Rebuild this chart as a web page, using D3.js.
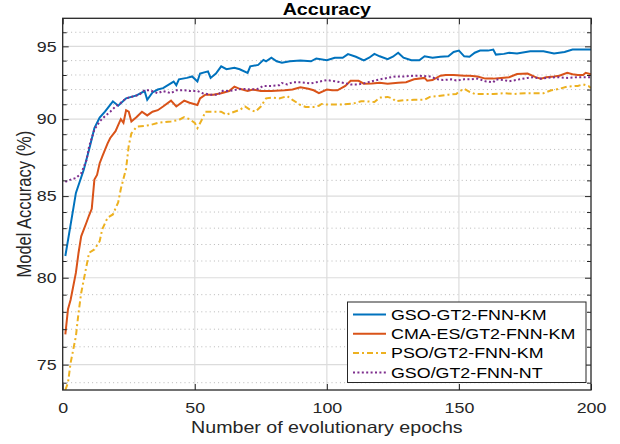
<!DOCTYPE html>
<html>
<head>
<meta charset="utf-8">
<script src="https://cdn.jsdelivr.net/npm/d3@7"></script>
<style>
  html, body { margin: 0; padding: 0; background: #fff; }
  svg { display: block; font-family: "Liberation Sans", Arial, sans-serif; }
</style>
</head>
<body>
<div id="chart"></div>
<script>
//================================
// Data
var seriesNames = ["GSO-GT2-FNN-KM", "CMA-ES/GT2-FNN-KM", "PSO/GT2-FNN-KM", "GSO/GT2-FNN-NT"];

var gsoKmEpochs = [1,4,5,8,10,12,14,16,19,21,24,28,31,32,34,36,38,42,43,44,47,49,51,52,55,56,58,60,62,65,67,70,71,74,76,77,79,81,83,86,90,94,96,100,103,106,108,111,114,116,118,120,123,125,127,129,132,135,137,140,143,146,148,150,152,154,156,158,161,163,164,167,169,172,177,182,186,190,193,197,200];
var gsoKmAcc = [81.3,84.2,85.2,86.7,88.0,89.4,90.1,90.5,91.2,90.9,91.4,91.6,91.9,91.3,91.8,92.0,92.1,92.55,92.3,92.7,92.8,92.9,92.55,93.1,93.25,92.8,93.1,93.6,93.4,93.5,93.4,93.15,93.6,93.7,94.05,93.95,94.2,93.95,93.85,93.95,94.0,93.95,94.15,94.02,94.2,94.2,94.45,94.27,94.02,94.2,94.47,94.3,94.1,94.27,94.55,94.2,94.02,94.02,94.3,94.2,94.27,94.3,94.6,94.7,94.3,94.27,94.55,94.7,94.7,94.77,94.42,94.47,94.55,94.5,94.65,94.65,94.5,94.6,94.77,94.77,94.77];

var cmaEpochs = [1,2,3,5,6,7,9,10,11,12,13,14,15,17,18,20,21,22,23,24,25,26,28,30,32,34,36,38,41,43,46,48,51,52,54,57,60,63,65,67,70,72,75,79,84,87,90,93,95,97,100,102,104,107,109,112,114,117,120,123,127,130,133,137,138,140,143,145,148,152,154,157,160,163,166,169,172,176,179,181,183,186,188,191,193,195,197,198,200];
var cmaAcc = [76.7,78.15,78.7,80.3,81.5,82.5,83.35,83.8,84.2,86.05,86.35,87.1,87.55,88.4,88.75,89.2,89.6,90.0,89.75,90.6,90.5,89.85,90.15,90.5,90.25,90.5,90.6,90.85,91.25,90.85,91.25,91.1,90.95,91.4,91.65,91.65,91.75,91.9,92.2,92.05,91.9,92.0,91.9,91.9,91.95,92.0,92.15,92.05,91.95,91.75,92.0,91.95,91.95,92.25,92.6,92.6,92.4,92.42,92.47,92.4,92.47,92.5,92.7,92.8,92.6,92.65,92.95,93.0,93.0,92.95,92.95,92.9,92.75,92.75,92.8,92.85,93.07,93.1,92.85,92.75,92.85,92.9,92.95,93.15,93.05,93.0,93.0,93.15,93.05];

var psoEpochs = [1,2,3,5,6,7,8,10,12,14,15,17,19,21,22,24,25,26,28,31,33,36,41,44,46,48,50,51,53,54,56,60,62,65,67,69,71,73,75,77,79,82,85,87,90,92,95,97,98,100,103,106,110,113,115,118,120,123,125,126,129,133,137,139,142,146,149,150,152,154,156,159,163,167,171,175,178,182,185,188,191,195,197,199,200];
var psoAcc = [73.6,74.0,75.1,76.6,77.95,79.1,79.9,81.5,81.7,82.2,82.95,83.65,83.85,84.6,85.45,86.75,88.25,89.05,89.5,89.55,89.6,89.75,89.85,89.95,90.13,90.0,89.75,89.4,90.07,90.5,90.5,90.5,90.3,90.5,90.62,90.85,90.62,90.5,90.85,91.4,91.45,91.4,91.55,91.3,90.95,90.82,90.82,90.9,91.02,90.98,90.98,90.98,91.05,91.2,91.2,91.15,91.45,91.5,91.38,91.2,91.27,91.3,91.3,91.5,91.55,91.65,91.7,91.85,92.05,91.85,91.7,91.7,91.7,91.75,91.7,91.75,91.75,91.75,91.95,92.05,92.2,92.25,92.35,92.25,92.1];

var gsoNtEpochs = [1,3,5,7,9,10,12,14,16,18,20,22,24,27,29,31,33,36,38,41,43,46,48,51,53,56,59,60,63,66,68,71,74,76,79,82,83,85,87,90,94,96,99,100,103,106,109,112,115,117,120,123,126,129,133,135,139,142,144,147,149,152,154,157,160,163,164,167,169,173,176,178,181,183,187,191,195,200];
var gsoNtAcc = [85.9,86.05,86.15,86.45,87.3,88.2,89.3,89.85,90.2,90.5,90.85,91.1,91.4,91.55,91.65,91.95,91.95,91.75,91.9,91.75,91.95,91.95,91.9,91.9,91.75,91.65,91.65,91.9,91.9,92.0,92.05,92.0,92.05,92.25,92.25,92.3,92.45,92.35,92.5,92.5,92.42,92.5,92.62,92.65,92.57,92.47,92.35,92.35,92.47,92.57,92.7,92.8,92.9,92.9,92.95,92.95,92.9,92.7,92.65,92.7,92.62,92.7,92.7,92.75,92.57,92.5,92.7,92.65,92.57,92.7,92.8,92.85,92.75,92.8,92.85,92.8,92.85,92.85];

var xTicks = [0, 50, 100, 150, 200];
var yTicks = [75, 80, 85, 90, 95];
var yMinor = d3.range(74, 97).filter(function(d) { return yTicks.indexOf(d) < 0; });

//================================
// Layout
var W = 620, H = 444,
    pLeft = 62.7, pRight = 591, pTop = 18.3, pBottom = 390,
    stretch = 1.19,   // reference text is drawn wide
    ink = "#262626",
    colors = ["#0072BD", "#D95319", "#EDB120", "#7E2F8E"],
    dashes = [null, null, "6,3,2,3", "2,2.4"];

var x = d3.scaleLinear().domain([0, 200]).range([pLeft, pRight]);
var y = d3.scaleLog().domain([73.6, 97]).range([pBottom, pTop]);

var svg = d3.select("#chart").append("svg")
    .attr("width", W).attr("height", H);

svg.append("defs").append("clipPath").attr("id", "plot")
  .append("rect").attr("x", pLeft).attr("y", pTop)
  .attr("width", pRight - pLeft).attr("height", pBottom - pTop);

// grid
var grid = svg.append("g");
grid.selectAll(".ymin").data(yMinor).enter().append("line")
    .attr("x1", pLeft).attr("x2", pRight)
    .attr("y1", function(d) { return y(d); }).attr("y2", function(d) { return y(d); })
    .attr("stroke", "#b8b8b8").attr("stroke-width", 1)
    .attr("stroke-dasharray", "1,3.2");
grid.selectAll(".ymaj").data(yTicks).enter().append("line")
    .attr("x1", pLeft).attr("x2", pRight)
    .attr("y1", function(d) { return y(d); }).attr("y2", function(d) { return y(d); })
    .attr("stroke", "#dcdcdc").attr("stroke-width", 1.2);
grid.selectAll(".xmaj").data(xTicks.slice(1, -1)).enter().append("line")
    .attr("y1", pTop).attr("y2", pBottom)
    .attr("x1", function(d) { return x(d); }).attr("x2", function(d) { return x(d); })
    .attr("stroke", "#dcdcdc").attr("stroke-width", 1.2);

// series
var series = [
  { epochs: gsoKmEpochs, acc: gsoKmAcc },
  { epochs: cmaEpochs, acc: cmaAcc },
  { epochs: psoEpochs, acc: psoAcc },
  { epochs: gsoNtEpochs, acc: gsoNtAcc }
];
var line = d3.line()
    .x(function(d) { return x(d[0]); })
    .y(function(d) { return y(d[1]); });

var lines = svg.append("g").attr("clip-path", "url(#plot)");
series.forEach(function(s, i) {
  var pts = s.epochs.map(function(e, k) { return [e, s.acc[k]]; });
  lines.append("path")
      .attr("d", line(pts))
      .attr("fill", "none")
      .attr("stroke", colors[i])
      .attr("stroke-width", 2)
      .attr("stroke-dasharray", dashes[i]);
});

// axes
function styleAxis(g) {
  g.select(".domain").remove();
  g.selectAll("line").attr("stroke", ink);
  g.selectAll("text").attr("fill", ink).style("font-size", "15px")
      .style("font-family", "'Liberation Sans', Arial, sans-serif");
}

svg.append("g").attr("transform", "translate(" + pLeft + ",0)")
    .call(d3.axisLeft(y).tickValues(yTicks).tickFormat(d3.format("d"))
      .tickSizeInner(-6).tickSizeOuter(0).tickPadding(6))
    .call(styleAxis)
    .selectAll("text").attr("x", 0)
    .attr("transform", "translate(-6,0) scale(" + stretch + ",1)");

svg.append("g").attr("transform", "translate(" + pLeft + ",0)")
    .call(d3.axisLeft(y).tickValues(yMinor).tickFormat("").tickSizeInner(-4).tickSizeOuter(0))
    .call(styleAxis);
svg.append("g").attr("transform", "translate(" + pRight + ",0)")
    .call(d3.axisRight(y).tickValues(yTicks).tickFormat("").tickSizeInner(-6).tickSizeOuter(0))
    .call(styleAxis);
svg.append("g").attr("transform", "translate(" + pRight + ",0)")
    .call(d3.axisRight(y).tickValues(yMinor).tickFormat("").tickSizeInner(-4).tickSizeOuter(0))
    .call(styleAxis);

svg.append("g").attr("transform", "translate(0," + pBottom + ")")
    .call(d3.axisBottom(x).tickValues(xTicks).tickSizeInner(-6).tickSizeOuter(0).tickPadding(12))
    .call(styleAxis)
    .selectAll("text").attr("transform", "scale(" + stretch + ",1)");
svg.append("g").attr("transform", "translate(0," + pTop + ")")
    .call(d3.axisTop(x).tickValues(xTicks).tickFormat("").tickSizeInner(-6).tickSizeOuter(0))
    .call(styleAxis);

// box
svg.append("rect")
    .attr("x", pLeft).attr("y", pTop)
    .attr("width", pRight - pLeft).attr("height", pBottom - pTop)
    .attr("fill", "none").attr("stroke", ink).attr("stroke-width", 1.3);

// title and labels
var cx = (pLeft + pRight) / 2;
svg.append("text")
    .attr("transform", "translate(" + cx + ",15) scale(" + stretch + ",1)")
    .attr("text-anchor", "middle").attr("fill", "#000")
    .style("font-size", "16.5px").style("font-weight", "bold")
    .text("Accuracy");
svg.append("text")
    .attr("transform", "translate(" + cx + ",433) scale(" + stretch + ",1)")
    .attr("text-anchor", "middle").attr("fill", ink)
    .style("font-size", "16.5px")
    .text("Number of evolutionary epochs");
svg.append("text")
    .attr("transform", "translate(31," + ((pTop + pBottom) / 2) + ") scale(" + stretch + ",1) rotate(-90)")
    .attr("text-anchor", "middle").attr("fill", ink)
    .style("font-size", "16.5px")
    .text("Model Accuracy (%)");

// legend
var lg = svg.append("g").attr("transform", "translate(347.5,302)");
lg.append("rect").attr("width", 238.5).attr("height", 80.5)
    .attr("fill", "#fff").attr("stroke", ink).attr("stroke-width", 1);
seriesNames.forEach(function(name, i) {
  var ry = 12.5 + i * 19.3;
  lg.append("line").attr("x1", 5.5).attr("x2", 38.5)
      .attr("y1", ry).attr("y2", ry)
      .attr("stroke", colors[i]).attr("stroke-width", 2)
      .attr("stroke-dasharray", dashes[i]);
  lg.append("text")
      .attr("transform", "translate(43.5," + (ry + 5.3) + ") scale(" + stretch + ",1)")
      .attr("fill", "#000").style("font-size", "15px")
      .text(name);
});
</script>
</body>
</html>
